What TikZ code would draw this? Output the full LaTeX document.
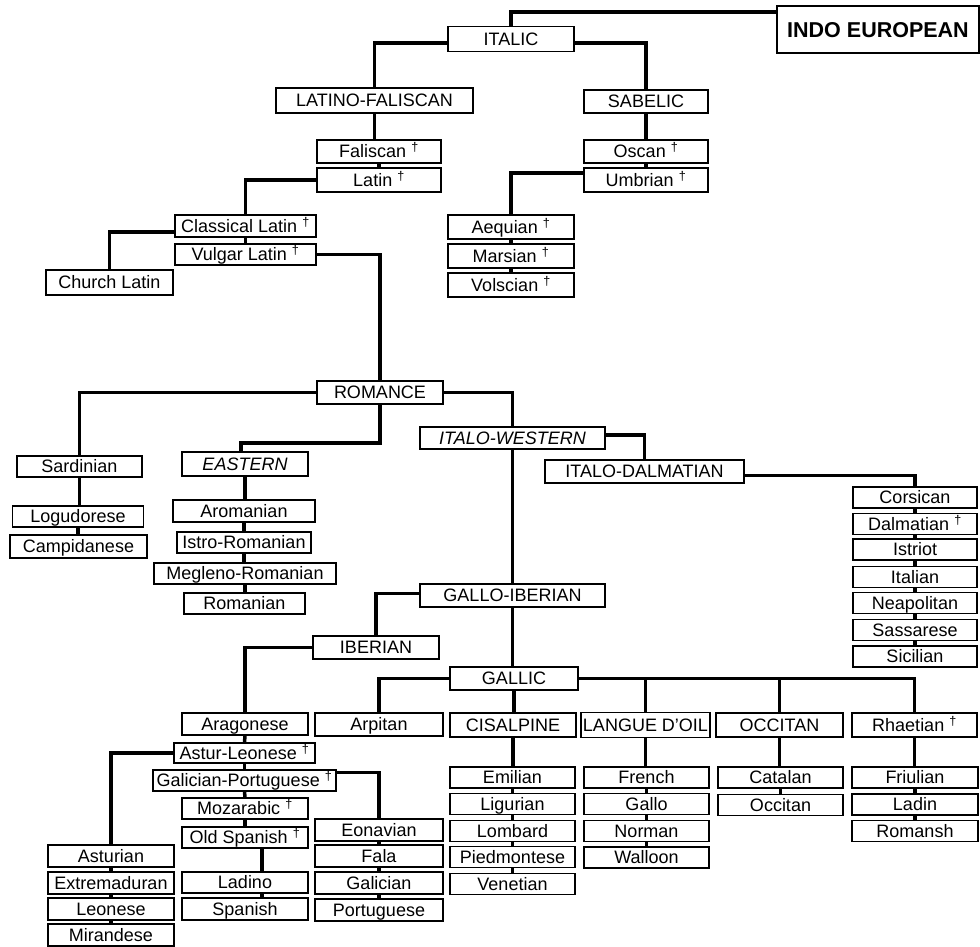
\documentclass[tikz,border=0pt]{standalone}
\usepackage{fontspec}
\setmainfont{Liberation Sans}
\newcommand{\dead}{\textsuperscript{\textdagger}}

\begin{document}
\begin{tikzpicture}[x=1pt, y=-1pt,
  lang/.style={draw, line width=1.8pt, inner sep=0pt, minimum height=22pt,
    text height=13.4pt, text depth=0.5pt, font=\fontsize{18}{18}\selectfont},
  link/.style={line width=3.5pt}]
\useasboundingbox (0,0) rectangle (980,947);

% top of the tree
\node[lang, minimum width=202pt, minimum height=47pt, text height=15.8pt,
  font=\bfseries\fontsize{21.5}{21.5}\selectfont] (indoeu) at (878,29.5) {INDO EUROPEAN};
\node[lang, minimum width=126pt, minimum height=25pt] (italic) at (511,39) {ITALIC};
\node[lang, minimum width=197pt, minimum height=25pt] (latfal) at (374.5,100.5) {LATINO-FALISCAN};
\node[lang, minimum width=124pt, minimum height=23pt] (sabelic) at (646,101.5) {SABELIC};
\node[lang, minimum width=124pt, minimum height=23pt] (faliscan) at (379,151.5) {Faliscan \dead};
\node[lang, minimum width=124pt, minimum height=24pt] (latin) at (379,180) {Latin \dead};
\node[lang, minimum width=124pt, minimum height=23pt] (oscan) at (646,151.5) {Oscan \dead};
\node[lang, minimum width=124pt, minimum height=24pt] (umbrian) at (646,180) {Umbrian \dead};
\node[lang, minimum width=141pt] (classical) at (245.5,226) {Classical Latin \dead};
\node[lang, minimum width=141pt, minimum height=21pt] (vulgar) at (245.5,254.5) {Vulgar Latin \dead};
\node[lang, minimum width=127pt, minimum height=25pt] (church) at (109.5,282.5) {Church Latin};
\node[lang, minimum width=126pt, minimum height=24pt] (aequian) at (511,227) {Aequian \dead};
\node[lang, minimum width=126pt, minimum height=24pt] (marsian) at (511,256) {Marsian \dead};
\node[lang, minimum width=126pt, minimum height=24pt] (volscian) at (511,285) {Volscian \dead};

% romance
\node[lang, minimum width=126pt, minimum height=23pt] (romance) at (380,392.5) {ROMANCE};
\node[lang, minimum width=125pt, minimum height=21pt] (sardinian) at (79.5,466.5) {Sardinian};
\node[lang, minimum width=131pt, minimum height=21pt] (logudorese) at (78,516.5) {Logudorese};
\node[lang, minimum width=137pt, minimum height=23pt] (campidanese) at (78.5,546.5) {Campidanese};
\node[lang, minimum width=126pt, minimum height=24pt, font=\itshape\fontsize{18}{18}\selectfont] (eastern) at (245,464) {EASTERN};
\node[lang, minimum width=142pt] (aromanian) at (244,511) {Aromanian};
\node[lang, minimum width=134pt, minimum height=21pt] (istro) at (244,542.5) {Istro-Romanian};
\node[lang, minimum width=182pt, minimum height=21pt] (megleno) at (245,573.5) {Megleno-Romanian};
\node[lang, minimum width=121pt, minimum height=21pt] (romanian) at (244.5,603.5) {Romanian};
\node[lang, minimum width=185pt, font=\itshape\fontsize{18}{18}\selectfont] (italowestern) at (512.5,438) {ITALO-WESTERN};
\node[lang, minimum width=199pt, minimum height=23pt] (italodalm) at (644.5,471.5) {ITALO-DALMATIAN};

% italo-dalmatian
\node[lang, minimum width=124pt, minimum height=21pt] (corsican) at (915,497.5) {Corsican};
\node[lang, minimum width=124pt, minimum height=21pt] (dalmatian) at (915,524) {Dalmatian \dead};
\node[lang, minimum width=124pt, minimum height=21pt] (istriot) at (915,549.5) {Istriot};
\node[lang, minimum width=124pt, minimum height=21pt] (italian) at (915,577) {Italian};
\node[lang, minimum width=124pt, minimum height=21pt] (neapolitan) at (915,603) {Neapolitan};
\node[lang, minimum width=124pt, minimum height=21pt] (sassarese) at (915,630) {Sassarese};
\node[lang, minimum width=124pt, minimum height=21pt] (sicilian) at (915,656.5) {Sicilian};

% gallo-iberian
\node[lang, minimum width=185pt, minimum height=23pt] (galloib) at (512.5,595.5) {GALLO-IBERIAN};
\node[lang, minimum width=126pt, minimum height=23pt] (iberian) at (376,647.5) {IBERIAN};
\node[lang, minimum width=128pt, minimum height=23pt] (gallic) at (514,678.5) {GALLIC};
\node[lang, minimum width=126pt] (aragonese) at (245,724) {Aragonese};
\node[lang, minimum width=141pt, minimum height=20pt] (asturleon) at (244.5,753) {Astur-Leonese \dead};
\node[lang, minimum width=183pt, minimum height=21pt] (galport) at (244.5,780.5) {Galician-Portuguese \dead};
\node[lang, minimum width=126pt, minimum height=21pt] (mozarabic) at (245,808.5) {Mozarabic \dead};
\node[lang, minimum width=126pt, minimum height=21pt] (oldspanish) at (245,837.5) {Old Spanish \dead};
\node[lang, minimum width=126pt, minimum height=21pt] (ladino) at (245,882.5) {Ladino};
\node[lang, minimum width=126pt] (spanish) at (245,909) {Spanish};
\node[lang, minimum width=128pt] (eonavian) at (379,830) {Eonavian};
\node[lang, minimum width=128pt] (fala) at (379,856) {Fala};
\node[lang, minimum width=128pt] (galician) at (379,883) {Galician};
\node[lang, minimum width=128pt] (portuguese) at (379,910) {Portuguese};
\node[lang, minimum width=126pt] (asturian) at (111,856) {Asturian};
\node[lang, minimum width=126pt] (extremad) at (111,883) {Extremaduran};
\node[lang, minimum width=126pt] (leonese) at (111,909) {Leonese};
\node[lang, minimum width=126pt] (mirandese) at (111,935) {Mirandese};

% gallic
\node[lang, minimum width=128pt, minimum height=23pt] (arpitan) at (379,724.5) {Arpitan};
\node[lang, minimum width=126pt, minimum height=24pt] (cisalpine) at (513,725) {CISALPINE};
\node[lang, minimum width=129pt, minimum height=25pt] (langue) at (645.5,725) {LANGUE D'OIL};
\node[lang, minimum width=127pt, minimum height=24pt] (occitanbr) at (779.5,725) {OCCITAN};
\node[lang, minimum width=125pt, minimum height=24pt] (rhaetian) at (914.5,725) {Rhaetian \dead};
\node[lang, minimum width=125pt, minimum height=21pt] (emilian) at (512.5,777.5) {Emilian};
\node[lang, minimum width=125pt, minimum height=21pt] (ligurian) at (512.5,804) {Ligurian};
\node[lang, minimum width=125pt, minimum height=21pt] (lombard) at (512.5,831) {Lombard};
\node[lang, minimum width=125pt, minimum height=21pt] (piedmont) at (512.5,857) {Piedmontese};
\node[lang, minimum width=125pt, minimum height=21pt] (venetian) at (512.5,884) {Venetian};
\node[lang, minimum width=125pt, minimum height=21pt] (french) at (646.5,777.5) {French};
\node[lang, minimum width=125pt, minimum height=21pt] (gallo) at (646.5,804) {Gallo};
\node[lang, minimum width=125pt, minimum height=21pt] (norman) at (646.5,831) {Norman};
\node[lang, minimum width=125pt, minimum height=21pt] (walloon) at (646.5,857.5) {Walloon};
\node[lang, minimum width=125pt, minimum height=21pt] (catalan) at (780.5,777.5) {Catalan};
\node[lang, minimum width=125pt, minimum height=21pt] (occitan) at (780.5,805) {Occitan};
\node[lang, minimum width=126pt, minimum height=21pt] (friulian) at (915,777.5) {Friulian};
\node[lang, minimum width=126pt, minimum height=21pt] (ladin) at (915,804.5) {Ladin};
\node[lang, minimum width=126pt, minimum height=21pt] (romansh) at (915,831) {Romansh};

\coordinate (eastbend) at (241,443);

% connectors
\draw[link] (italic.north) |- ([yshift=-7pt]indoeu.north west);
\draw[link] ([yshift=-4pt]italic.west) -| (latfal.north);
\draw[link] ([yshift=-4pt]italic.east) -| (sabelic.north);
\draw[link] (latfal.south) -- (latfal.south |- faliscan.north);
\draw[link] (faliscan.south) -- (latin.north);
\draw[link] (sabelic.south) -- (oscan.north);
\draw[link] (oscan.south) -- (umbrian.north);
\draw[link] (latin.west) -| (classical.north);
\draw[link] (classical.south) -- (vulgar.north);
\draw[link] ([yshift=-6pt]classical.west) -| (church.north);
\draw[link] ([yshift=7pt]umbrian.west) -| (aequian.north);
\draw[link] (aequian.south) -- (marsian.north);
\draw[link] (marsian.south) -- (volscian.north);
\draw[link] (vulgar.east) -| (romance.north);

\draw[link] (romance.west) -| (sardinian.north);
\draw[link] (romance.east) -| (italowestern.north);
\draw[link] (romance.south) |- (eastbend) -- (eastbend |- eastern.north);
\draw[link] (sardinian.south) -- (sardinian.south |- logudorese.north);
\draw[link] (logudorese.south) -- (logudorese.south |- campidanese.north);
\draw[link] (eastern.south) -- (eastern.south |- aromanian.north);
\draw[link] (aromanian.south) -- (aromanian.south |- istro.north);
\draw[link] (istro.south) -- (istro.south |- megleno.north);
\draw[link] (megleno.south) -- (megleno.south |- romanian.north);
\draw[link] ([yshift=3pt]italowestern.east) -| (italodalm.north);
\draw[link] (italowestern.south) -- (italowestern.south |- galloib.north);

\draw[link] ([yshift=-4pt]italodalm.east) -| (corsican.north);
\draw[link] (corsican.south) -- (dalmatian.north);
\draw[link] (dalmatian.south) -- (istriot.north);
\draw[link] (istriot.south) -- (italian.north);
\draw[link] (italian.south) -- (neapolitan.north);
\draw[link] (neapolitan.south) -- (sassarese.north);
\draw[link] (sassarese.south) -- (sicilian.north);

\draw[link] ([yshift=2pt]galloib.west) -| (iberian.north);
\draw[link] (galloib.south) -- (galloib.south |- gallic.north);
\draw[link] (iberian.west) -| (aragonese.north);
\draw[link] (aragonese.south) -- (asturleon.north);
\draw[link] (asturleon.south) -- (galport.north);
\draw[link] (galport.south) -- (mozarabic.north);
\draw[link] (mozarabic.south) -- (oldspanish.north);
\draw[link] ([xshift=17pt]oldspanish.south) -- ([xshift=17pt]ladino.north);
\draw[link] ([xshift=17pt]ladino.south) -- ([xshift=17pt]spanish.north);
\draw[link] (asturleon.west) -| (asturian.north);
\draw[link] (asturian.south) -- (extremad.north);
\draw[link] (extremad.south) -- (leonese.north);
\draw[link] (leonese.south) -- (mirandese.north);
\draw[link] ([yshift=8pt]galport.east) -| (eonavian.north);
\draw[link] (eonavian.south) -- (fala.north);
\draw[link] (fala.south) -- (galician.north);
\draw[link] (galician.south) -- (portuguese.north);

\draw[link] (gallic.west) -| (arpitan.north);
\draw[link] (gallic.south) -- (gallic.south |- cisalpine.north);
\draw[link] (gallic.east) -| (rhaetian.north);
\draw[link] (langue.north |- gallic.east) -- (langue.north);
\draw[link] (occitanbr.north |- gallic.east) -- (occitanbr.north);
\draw[link] (cisalpine.south) -- (cisalpine.south |- emilian.north);
\draw[link] (emilian.south) -- (ligurian.north);
\draw[link] (ligurian.south) -- (lombard.north);
\draw[link] (lombard.south) -- (piedmont.north);
\draw[link] (piedmont.south) -- (venetian.north);
\draw[link] (langue.south) -- (langue.south |- french.north);
\draw[link] (french.south) -- (gallo.north);
\draw[link] (gallo.south) -- (norman.north);
\draw[link] (norman.south) -- (walloon.north);
\draw[link] (occitanbr.south) -- (occitanbr.south |- catalan.north);
\draw[link] (catalan.south) -- (occitan.north);
\draw[link] (rhaetian.south) -- (rhaetian.south |- friulian.north);
\draw[link] (friulian.south) -- (ladin.north);
\draw[link] (ladin.south) -- (romansh.north);
\end{tikzpicture}
\end{document}
